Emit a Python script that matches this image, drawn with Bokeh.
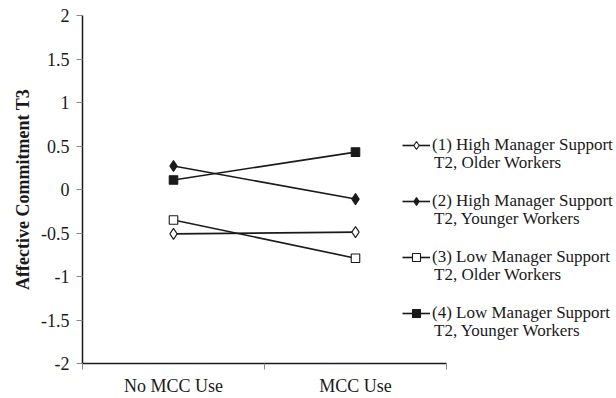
from bokeh.plotting import figure
from bokeh.models import (Range1d, FixedTicker, Legend, LegendItem, ColumnDataSource)
from bokeh.embed import file_html
from bokeh.resources import INLINE

# ---- data ----
categories = ["No MCC Use", "MCC Use"]
series_line1 = [
    "(1) High Manager Support",
    "(2) High Manager Support",
    "(3) Low Manager Support",
    "(4) Low Manager Support",
]
series_line2 = [
    "T2, Older Workers",
    "T2, Younger Workers",
    "T2, Older Workers",
    "T2, Younger Workers",
]
s1_values = [-0.51, -0.49]
s2_values = [0.27, -0.11]
s3_values = [-0.35, -0.79]
s4_values = [0.11, 0.43]
y_ticks = [-2, -1.5, -1, -0.5, 0, 0.5, 1, 1.5, 2]
y_tick_labels = ["-2", "-1.5", "-1", "-0.5", "0", "0.5", "1", "1.5", "2"]
y_title = "Affective Commitment T3"

FONT = "Liberation Serif"
INK = "#1a1a1a"

x_pos = [i + 0.5 for i in range(len(categories))]
boundaries = list(range(len(categories) + 1))

# frame spans the whole width to the right so the legend is not clipped;
# the x axis itself is bounded to the category span
W, H = 616, 398
LEFT, TOP, BOTTOM = 82, 15, 32
cat_px = 182.0
x_end = (W - LEFT) / cat_px

p = figure(width=W, height=H, output_backend="svg", toolbar_location=None,
           x_range=Range1d(0, x_end), y_range=Range1d(-2, 2),
           min_border_left=LEFT, min_border_top=TOP, min_border_bottom=BOTTOM,
           min_border_right=0)
p.outline_line_color = None
p.xgrid.visible = False
p.ygrid.visible = False
p.background_fill_color = "white"
p.border_fill_color = "white"

styles = [
    dict(marker="diamond", size=11, fill_color="white"),
    dict(marker="diamond", size=11, fill_color=INK),
    dict(marker="square", size=8.5, fill_color="white"),
    dict(marker="square", size=8.5, fill_color=INK),
]
all_values = [s1_values, s2_values, s3_values, s4_values]

items_a = []
dummy = None
for vals, st, lab in zip(all_values, styles, series_line1):
    src = ColumnDataSource(dict(x=x_pos, y=vals))
    lr = p.line("x", "y", source=src, line_color=INK, line_width=1.6)
    sr = p.scatter("x", "y", source=src, marker=st["marker"], size=st["size"],
                   fill_color=st["fill_color"], line_color=INK, line_width=1.1)
    items_a.append(LegendItem(label=lab, renderers=[lr, sr]))
    if dummy is None:
        dummy = p.line("x", "y", source=src, line_alpha=0)

items_b = [LegendItem(label=lab, renderers=[dummy]) for lab in series_line2]

common = dict(glyph_width=28, glyph_height=20, label_height=20,
              padding=0, margin=0, spacing=36,
              background_fill_alpha=0, border_line_alpha=0,
              label_text_font=FONT, label_text_font_size="17px",
              label_text_color=INK)
legend_a = Legend(items=items_a, location=(320, 40), label_standoff=2, **common)
legend_b = Legend(items=items_b, location=(320, 22), label_standoff=4, **common)
p.add_layout(legend_a)
p.add_layout(legend_b)

# y axis
ya = p.yaxis[0]
ya.ticker = FixedTicker(ticks=y_ticks)
ya.major_label_overrides = {t: l for t, l in zip(y_ticks, y_tick_labels)}
ya.minor_tick_line_color = None
ya.major_tick_in = 0
ya.major_tick_out = 6
ya.major_label_standoff = 7
ya.major_label_text_font = FONT
ya.major_label_text_font_size = "18px"
ya.major_label_text_color = INK
ya.axis_line_color = INK
ya.axis_line_width = 1.5
ya.major_tick_line_color = "#888888"
ya.axis_label = y_title
ya.axis_label_text_font = FONT
ya.axis_label_text_font_size = "18px"
ya.axis_label_text_font_style = "bold"
ya.axis_label_text_color = INK
ya.axis_label_standoff = 5

# x axis
xa = p.xaxis[0]
xa.bounds = (boundaries[0], boundaries[-1])
xa.ticker = FixedTicker(ticks=x_pos, minor_ticks=boundaries)
xa.major_label_overrides = {x: c for x, c in zip(x_pos, categories)}
xa.major_tick_line_color = None
xa.major_tick_in = 0
xa.major_tick_out = 0
xa.minor_tick_in = 0
xa.minor_tick_out = 6
xa.minor_tick_line_color = "#888888"
xa.major_label_standoff = 6
xa.major_label_text_font = FONT
xa.major_label_text_font_size = "18px"
xa.major_label_text_color = INK
xa.axis_line_color = INK
xa.axis_line_width = 1.5

open("out.html", "w").write(file_html(p, INLINE))
